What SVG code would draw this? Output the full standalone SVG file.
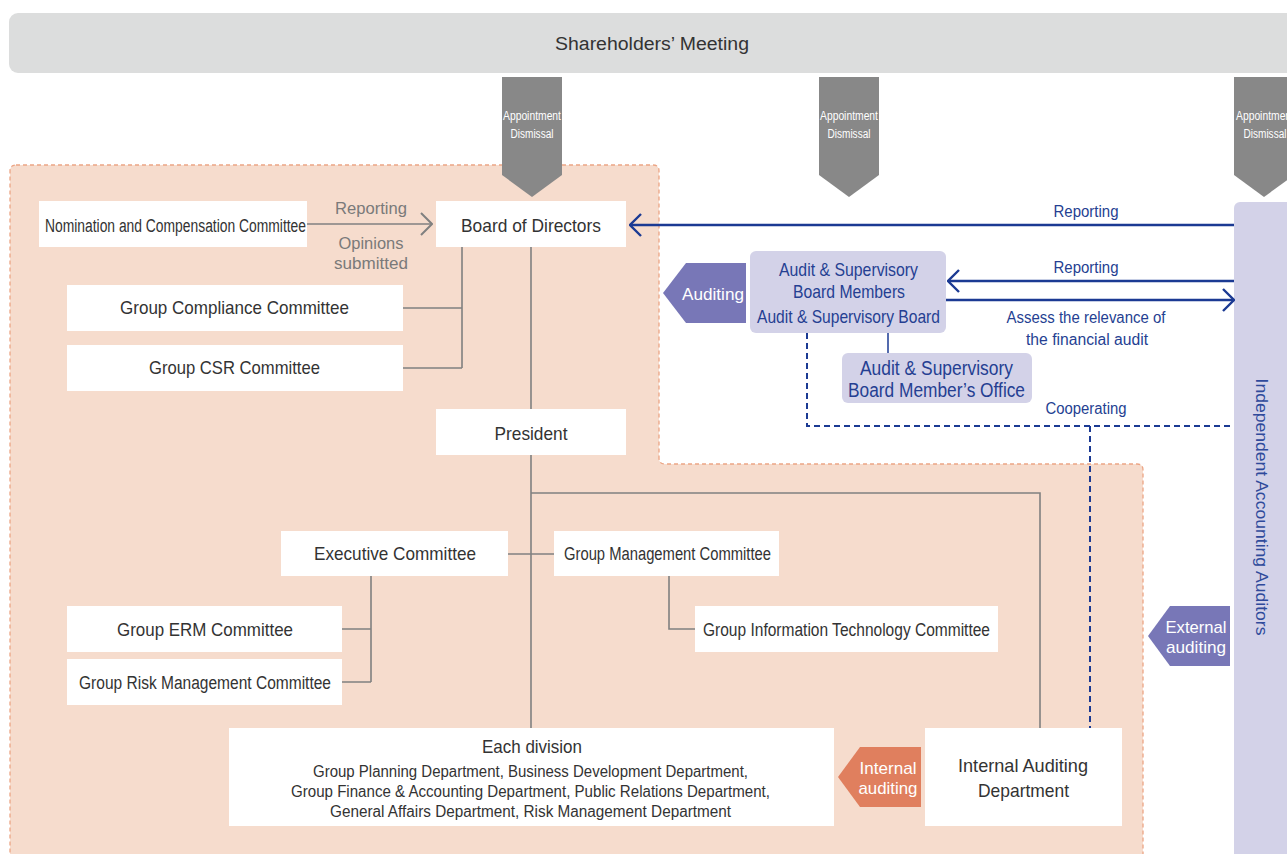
<svg xmlns="http://www.w3.org/2000/svg" width="1287" height="854" viewBox="0 0 1287 854">
  <defs>
    <style>
      .box { fill: #ffffff; }
      .lav { fill: #d3d2e8; }
      .gline { fill: none; stroke: #808080; stroke-width: 1.6; }
      .bline { fill: none; stroke: #1b3a93; stroke-width: 2.4; }
      .bdash { fill: none; stroke: #1b3a93; stroke-width: 2; stroke-dasharray: 6 4; }
      .t { font-family: "Liberation Sans Narrow", "Liberation Sans", Arial, sans-serif; text-anchor: middle; fill: #333333; }
      .tg { font-family: "Liberation Sans Narrow", "Liberation Sans", Arial, sans-serif; text-anchor: middle; fill: #7a7a7a; }
      .tb { font-family: "Liberation Sans Narrow", "Liberation Sans", Arial, sans-serif; text-anchor: middle; fill: #253f92; }
      .tw { font-family: "Liberation Sans Narrow", "Liberation Sans", Arial, sans-serif; text-anchor: middle; fill: #ffffff; }
    </style>
    <marker id="chevGray" viewBox="0 0 13 24" refX="12" refY="12" markerWidth="13" markerHeight="24" orient="auto" markerUnits="userSpaceOnUse">
      <path d="M1,1 L12,12 L1,23" fill="none" stroke="#808080" stroke-width="2"/>
    </marker>
    <marker id="chevBlue" viewBox="0 0 13 24" refX="12" refY="12" markerWidth="13" markerHeight="24" orient="auto" markerUnits="userSpaceOnUse">
      <path d="M1,1 L12,12 L1,23" fill="none" stroke="#1b3a93" stroke-width="2.4"/>
    </marker>
  </defs>

  <!-- shareholders' meeting banner -->
  <g id="shareholders">
    <rect x="9" y="13" width="1320" height="60" rx="9" fill="#dcdddd"/>
    <text class="t" x="652" y="50" font-size="18" textLength="194" lengthAdjust="spacingAndGlyphs" fill="#222">Shareholders’ Meeting</text>
  </g>

  <!-- company area -->
  <g id="company-area">
    <path d="M16,165 H653 Q659,165 659,171 V458 Q659,464 665,464 H1137 Q1143,464 1143,470 V870 H10 V171 Q10,165 16,165 Z" fill="#f6dccd" stroke="#eca585" stroke-width="1.3" stroke-dasharray="4 3"/>
  </g>

  <!-- independent accounting auditors -->
  <g id="independent-auditors">
    <rect x="1234" y="202" width="90" height="700" rx="6" class="lav"/>
    <text x="1262" y="507" transform="rotate(90 1262 507)" font-family="'Liberation Sans', Arial, sans-serif" font-size="17" text-anchor="middle" fill="#2f4a9b" dy="6" textLength="257" lengthAdjust="spacingAndGlyphs">Independent Accounting Auditors</text>
  </g>

  <!-- appointment / dismissal arrows -->
  <g id="appoint1">
    <polygon points="502,77 562,77 562,175 532,197 502,175" fill="#888888"/>
    <text class="tw" x="532" y="120" font-size="12" textLength="58" lengthAdjust="spacingAndGlyphs">Appointment</text>
    <text class="tw" x="532" y="138" font-size="12" textLength="43" lengthAdjust="spacingAndGlyphs">Dismissal</text>
  </g>
  <g id="appoint2">
    <polygon points="819,77 879,77 879,175 849,197 819,175" fill="#888888"/>
    <text class="tw" x="849" y="120" font-size="12" textLength="58" lengthAdjust="spacingAndGlyphs">Appointment</text>
    <text class="tw" x="849" y="138" font-size="12" textLength="43" lengthAdjust="spacingAndGlyphs">Dismissal</text>
  </g>
  <g id="appoint3">
    <polygon points="1234,77 1294,77 1294,175 1264,197 1234,175" fill="#888888"/>
    <text class="tw" x="1265" y="120" font-size="12" textLength="58" lengthAdjust="spacingAndGlyphs">Appointment</text>
    <text class="tw" x="1265" y="138" font-size="12" textLength="43" lengthAdjust="spacingAndGlyphs">Dismissal</text>
  </g>

  <!-- connectors -->
  <g id="connectors">
    <path class="gline" d="M307,224 H432" marker-end="url(#chevGray)"/>
    <path class="gline" d="M531,247 V728"/>
    <path class="gline" d="M462,247 V368 M403,308 H462 M403,368 H462"/>
    <path class="gline" d="M531,493 H1040 V728"/>
    <path class="gline" d="M508,554 H554"/>
    <path class="gline" d="M669,576 V629 H695"/>
    <path class="gline" d="M371,576 V682 M342,629 H371 M342,682 H371"/>
    <path d="M888,333 V353" fill="none" stroke="#1b3a93" stroke-width="1.5"/>
    <path class="bline" d="M1234,225 H630" marker-end="url(#chevBlue)"/>
    <path class="bline" d="M1234,281 H948" marker-end="url(#chevBlue)"/>
    <path class="bline" d="M946,300 H1234" marker-end="url(#chevBlue)"/>
    <path class="bdash" d="M807,333 V426 H1234"/>
    <path class="bdash" d="M1090,426 V728"/>
    <text class="tg" x="371" y="214" font-size="17" textLength="72" lengthAdjust="spacingAndGlyphs">Reporting</text>
    <text class="tg" x="371" y="249" font-size="17" textLength="65" lengthAdjust="spacingAndGlyphs">Opinions</text>
    <text class="tg" x="371" y="269" font-size="17" textLength="74" lengthAdjust="spacingAndGlyphs">submitted</text>
    <text class="tb" x="1086" y="217" font-size="16" textLength="65" lengthAdjust="spacingAndGlyphs">Reporting</text>
    <text class="tb" x="1086" y="273" font-size="16" textLength="65" lengthAdjust="spacingAndGlyphs">Reporting</text>
    <text class="tb" x="1086" y="323" font-size="16" textLength="159" lengthAdjust="spacingAndGlyphs">Assess the relevance of</text>
    <text class="tb" x="1087" y="345" font-size="16" textLength="122" lengthAdjust="spacingAndGlyphs">the financial audit</text>
    <text class="tb" x="1086" y="414" font-size="16" textLength="81" lengthAdjust="spacingAndGlyphs">Cooperating</text>
  </g>

  <!-- governance nodes -->
  <g id="nomination">
    <rect class="box" x="39" y="201" width="268" height="46"/>
    <text class="t" x="175.5" y="232" font-size="18" textLength="261" lengthAdjust="spacingAndGlyphs">Nomination and Compensation Committee</text>
  </g>
  <g id="board">
    <rect class="box" x="436" y="201" width="190" height="46"/>
    <text class="t" x="531" y="232" font-size="19" textLength="140" lengthAdjust="spacingAndGlyphs">Board of Directors</text>
  </g>
  <g id="compliance">
    <rect class="box" x="67" y="285" width="336" height="46"/>
    <text class="t" x="234.5" y="314" font-size="19" textLength="229" lengthAdjust="spacingAndGlyphs">Group Compliance Committee</text>
  </g>
  <g id="csr">
    <rect class="box" x="67" y="345" width="336" height="46"/>
    <text class="t" x="234.5" y="374" font-size="19" textLength="171" lengthAdjust="spacingAndGlyphs">Group CSR Committee</text>
  </g>
  <g id="president">
    <rect class="box" x="436" y="409" width="190" height="46"/>
    <text class="t" x="531" y="440" font-size="19" textLength="73" lengthAdjust="spacingAndGlyphs">President</text>
  </g>
  <g id="executive">
    <rect class="box" x="281" y="531" width="227" height="45"/>
    <text class="t" x="395" y="560" font-size="19" textLength="162" lengthAdjust="spacingAndGlyphs">Executive Committee</text>
  </g>
  <g id="group-management">
    <rect class="box" x="554" y="531" width="225" height="45"/>
    <text class="t" x="667.5" y="560" font-size="18" textLength="207" lengthAdjust="spacingAndGlyphs">Group Management Committee</text>
  </g>
  <g id="group-it">
    <rect class="box" x="695" y="606" width="303" height="46"/>
    <text class="t" x="846.5" y="636" font-size="18" textLength="287" lengthAdjust="spacingAndGlyphs">Group Information Technology Committee</text>
  </g>
  <g id="group-erm">
    <rect class="box" x="67" y="606" width="275" height="46"/>
    <text class="t" x="205" y="636" font-size="19" textLength="176" lengthAdjust="spacingAndGlyphs">Group ERM Committee</text>
  </g>
  <g id="group-risk">
    <rect class="box" x="67" y="659" width="275" height="46"/>
    <text class="t" x="205" y="689" font-size="18" textLength="252" lengthAdjust="spacingAndGlyphs">Group Risk Management Committee</text>
  </g>
  <g id="each-division">
    <rect class="box" x="229" y="728" width="605" height="98"/>
    <text class="t" x="532" y="753" font-size="19" textLength="100" lengthAdjust="spacingAndGlyphs">Each division</text>
    <text class="t" x="530.5" y="777" font-size="16" textLength="435" lengthAdjust="spacingAndGlyphs">Group Planning Department, Business Development Department,</text>
    <text class="t" x="530.5" y="797" font-size="16" textLength="479" lengthAdjust="spacingAndGlyphs">Group Finance &amp; Accounting Department, Public Relations Department,</text>
    <text class="t" x="530.5" y="817" font-size="16" textLength="401" lengthAdjust="spacingAndGlyphs">General Affairs Department, Risk Management Department</text>
  </g>
  <g id="internal-auditing-tag">
    <polygon points="838,777 860,747 921,747 921,807 860,807" fill="#e07f5e"/>
    <text class="tw" x="888" y="774" font-size="17" textLength="57" lengthAdjust="spacingAndGlyphs">Internal</text>
    <text class="tw" x="888" y="794" font-size="17" textLength="59" lengthAdjust="spacingAndGlyphs">auditing</text>
  </g>
  <g id="internal-auditing-dept">
    <rect class="box" x="925" y="728" width="197" height="98"/>
    <text class="t" x="1023" y="772" font-size="19" textLength="130" lengthAdjust="spacingAndGlyphs">Internal Auditing</text>
    <text class="t" x="1023.5" y="797" font-size="19" textLength="91" lengthAdjust="spacingAndGlyphs">Department</text>
  </g>

  <!-- audit & supervisory side -->
  <g id="auditing-tag">
    <polygon points="663,293 686,263 746,263 746,323 686,323" fill="#7877b7"/>
    <text class="tw" x="713" y="300" font-size="17" textLength="62" lengthAdjust="spacingAndGlyphs">Auditing</text>
  </g>
  <g id="audit-board">
    <rect class="lav" x="750" y="251" width="196" height="82" rx="6"/>
    <text class="tb" x="848.5" y="276" font-size="19" textLength="139" lengthAdjust="spacingAndGlyphs">Audit &amp; Supervisory</text>
    <text class="tb" x="849" y="298" font-size="19" textLength="112" lengthAdjust="spacingAndGlyphs">Board Members</text>
    <text class="tb" x="848.5" y="323" font-size="19" textLength="183" lengthAdjust="spacingAndGlyphs">Audit &amp; Supervisory Board</text>
  </g>
  <g id="audit-office">
    <rect class="lav" x="842" y="353" width="190" height="50" rx="6"/>
    <text class="tb" x="936.5" y="375" font-size="20" textLength="153" lengthAdjust="spacingAndGlyphs">Audit &amp; Supervisory</text>
    <text class="tb" x="936.5" y="397" font-size="20" textLength="177" lengthAdjust="spacingAndGlyphs">Board Member’s Office</text>
  </g>
  <g id="external-auditing-tag">
    <polygon points="1148,636 1170,606 1230,606 1230,666 1170,666" fill="#7877b7"/>
    <text class="tw" x="1196" y="633" font-size="17" textLength="61" lengthAdjust="spacingAndGlyphs">External</text>
    <text class="tw" x="1196" y="653" font-size="17" textLength="60" lengthAdjust="spacingAndGlyphs">auditing</text>
  </g>
</svg>
